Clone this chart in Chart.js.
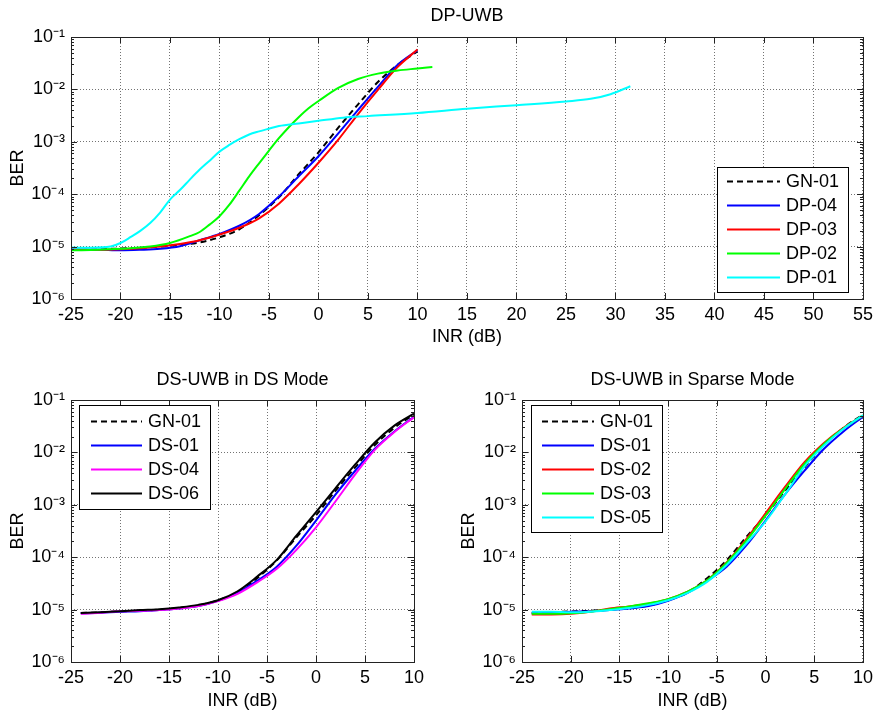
<!DOCTYPE html>
<html>
<head>
<meta charset="utf-8">
<script src="https://cdn.jsdelivr.net/npm/chart.js@4/dist/chart.umd.min.js"></script>
<style>
body { margin: 0; background: #fff; }
#wrap { position: relative; width: 878px; height: 714px; }
canvas { position: absolute; }
</style>
</head>
<body>
<div id="wrap">
  <canvas id="dp" width="878" height="355" style="left:0;top:0"></canvas>
  <canvas id="dsm" width="439" height="359" style="left:0;top:355px"></canvas>
  <canvas id="sp" width="439" height="359" style="left:439px;top:355px"></canvas>
</div>
<script>
// INR (dB) sample points
const dpX   = [-25,-22,-20,-18,-16,-14,-12,-10,-8,-6,-4,-2,0,2,4,6,8,10];
const dsX   = [-24,-22,-20,-18,-16,-14,-12,-10,-8,-6,-4,-2,0,2,4,6,8,10];
const dp02X = [-25,-23,-21,-19,-17,-15,-13,-12,-11,-10,-9,-8,-7,-6,-5,-4,-3,-2,-1,0,2,4,6,8,10,11.5];
const dp01X = [-25,-23,-21,-20,-19,-18,-17,-16,-15,-14,-13,-12,-11,-10,-9,-8,-7,-6,-5,-4,-2,0,2.5,5,10,15,20,25,27.5,29.5,31.5];

// BER values
const gn01 = [8.6e-6,8.9e-6,9.2e-6,9.5e-6,1.0e-5,1.07e-5,1.2e-5,1.51e-5,2.14e-5,3.98e-5,8.7e-5,2.4e-4,6.3e-4,1.86e-3,5.2e-3,1.38e-2,2.95e-2,5.3e-2];
const dp04 = [8.9e-6,8.7e-6,8.5e-6,8.7e-6,9.1e-6,1.02e-5,1.32e-5,1.74e-5,2.5e-5,4.2e-5,9.0e-5,2.2e-4,5.3e-4,1.45e-3,4.07e-3,1.12e-2,2.95e-2,5.6e-2];
const dp03 = [8.7e-6,8.7e-6,8.9e-6,9.3e-6,1.0e-5,1.12e-5,1.32e-5,1.7e-5,2.29e-5,3.47e-5,6.6e-5,1.55e-4,3.98e-4,1.1e-3,3.39e-3,9.8e-3,2.69e-2,5.75e-2];
const dp02 = [8.5e-6,8.6e-6,8.9e-6,9.3e-6,1.0e-5,1.17e-5,1.58e-5,1.9e-5,2.63e-5,3.8e-5,6.3e-5,1.17e-4,2.19e-4,3.89e-4,6.8e-4,1.17e-3,1.9e-3,2.95e-3,4.37e-3,6.0e-3,1.07e-2,1.58e-2,2.0e-2,2.29e-2,2.51e-2,2.69e-2];
const dp01 = [9.6e-6,9.5e-6,1.0e-5,1.17e-5,1.51e-5,2.0e-5,2.82e-5,4.47e-5,7.9e-5,1.2e-4,1.9e-4,2.95e-4,4.37e-4,6.5e-4,8.7e-4,1.12e-3,1.38e-3,1.58e-3,1.78e-3,2.0e-3,2.24e-3,2.51e-3,2.88e-3,3.09e-3,3.55e-3,4.27e-3,5.0e-3,5.9e-3,6.6e-3,8.1e-3,1.15e-2];
const ds01 = [8.5e-6,8.7e-6,9.1e-6,9.3e-6,9.8e-6,1.05e-5,1.17e-5,1.48e-5,2.09e-5,3.55e-5,6.6e-5,1.66e-4,5.0e-4,1.58e-3,4.47e-3,1.17e-2,2.51e-2,4.8e-2];
const ds04 = [8.3e-6,8.7e-6,9.3e-6,9.5e-6,9.8e-6,1.05e-5,1.17e-5,1.45e-5,2.0e-5,3.31e-5,6.0e-5,1.38e-4,3.72e-4,1.17e-3,3.8e-3,1.12e-2,2.45e-2,4.7e-2];
const ds06 = [8.6e-6,8.9e-6,9.3e-6,9.8e-6,1.02e-5,1.1e-5,1.23e-5,1.51e-5,2.24e-5,4.27e-5,8.9e-5,2.57e-4,7.24e-4,2.09e-3,5.89e-3,1.55e-2,3.24e-2,5.5e-2];
const ds02 = [8.1e-6,8.1e-6,8.3e-6,9.1e-6,1.05e-5,1.15e-5,1.29e-5,1.58e-5,2.19e-5,3.63e-5,7.9e-5,2.19e-4,6.9e-4,2.19e-3,6.5e-3,1.51e-2,2.95e-2,5.0e-2];
const ds03 = [8.3e-6,8.3e-6,8.5e-6,9.1e-6,1.02e-5,1.15e-5,1.32e-5,1.58e-5,2.19e-5,3.63e-5,7.8e-5,2.04e-4,6.2e-4,2.0e-3,6.0e-3,1.45e-2,2.88e-2,5.1e-2];
const ds05 = [9.1e-6,9.1e-6,8.9e-6,9.1e-6,9.8e-6,1.07e-5,1.23e-5,1.51e-5,2.09e-5,3.39e-5,7.1e-5,1.82e-4,4.8e-4,1.58e-3,5.4e-3,1.35e-2,2.82e-2,5.1e-2];

// y axis ticks
const berTicks = [1e-6,1e-5,1e-4,1e-3,1e-2,1e-1];

Chart.defaults.font.family = '"Liberation Sans", Arial, sans-serif';
Chart.defaults.font.size = 18;
Chart.defaults.color = '#000';

const sup = {'-':'\u207B','0':'\u2070','1':'\u00B9','2':'\u00B2','3':'\u00B3','4':'\u2074','5':'\u2075','6':'\u2076'};
function powLabel(v) {
  const e = String(Math.round(Math.log10(v)));
  return '10' + e.split('').map(c => sup[c]).join('');
}

function line(label, xs, ys, color, i, dash) {
  return {
    label: label,
    data: xs.map((x, k) => ({x: x, y: ys[k]})),
    borderColor: color,
    backgroundColor: color,
    borderWidth: 2,
    borderDash: dash || [],
    pointRadius: 0,
    cubicInterpolationMode: 'monotone',
    fill: false,
    order: -i
  };
}

// box round the plot with inward ticks
const frame = {
  id: 'frame',
  afterDatasetsDraw(chart) {
    const {ctx, chartArea: a, scales: {x, y}} = chart;
    ctx.save();
    ctx.strokeStyle = '#222';
    ctx.lineWidth = 1;
    ctx.beginPath();
    x.ticks.forEach(t => {
      const px = Math.round(x.getPixelForValue(t.value)) + 0.5;
      ctx.moveTo(px, a.bottom); ctx.lineTo(px, a.bottom - 6);
      ctx.moveTo(px, a.top); ctx.lineTo(px, a.top + 6);
    });
    y.ticks.forEach(t => {
      const py = Math.round(y.getPixelForValue(t.value)) + 0.5;
      ctx.moveTo(a.left, py); ctx.lineTo(a.left + 6, py);
      ctx.moveTo(a.right, py); ctx.lineTo(a.right - 6, py);
      for (let k = 2; k <= 9; k++) {
        const v = t.value * k;
        if (v >= y.max) break;
        const pm = Math.round(y.getPixelForValue(v)) + 0.5;
        ctx.moveTo(a.left, pm); ctx.lineTo(a.left + 3, pm);
        ctx.moveTo(a.right, pm); ctx.lineTo(a.right - 3, pm);
      }
    });
    ctx.stroke();
    ctx.strokeRect(Math.round(a.left) + 0.5, Math.round(a.top) + 0.5, Math.round(a.width), Math.round(a.height));
    ctx.restore();
  }
};

// legend box inside the plot
const boxLegend = {
  id: 'boxLegend',
  afterDraw(chart, args, o) {
    const ctx = chart.ctx;
    ctx.save();
    ctx.fillStyle = '#fff';
    ctx.fillRect(o.x, o.y, o.w, o.h);
    ctx.strokeStyle = '#000';
    ctx.lineWidth = 1;
    ctx.strokeRect(o.x + 0.5, o.y + 0.5, o.w, o.h);
    ctx.font = '18px "Liberation Sans", Arial, sans-serif';
    ctx.textBaseline = 'middle';
    chart.data.datasets.forEach((d, i) => {
      const cy = o.y + o.first + 24 * i + 0.5;
      ctx.strokeStyle = d.borderColor;
      ctx.lineWidth = 2;
      ctx.setLineDash(d.borderDash);
      ctx.beginPath();
      ctx.moveTo(o.x + o.l0, cy);
      ctx.lineTo(o.x + 63, cy);
      ctx.stroke();
      ctx.setLineDash([]);
      ctx.fillStyle = '#000';
      ctx.fillText(d.label, o.x + 69, cy + 1);
    });
    ctx.restore();
  }
};

function makeScales(xMax, xH, xTitlePad, yTitlePad) {
  const grid = {color: 'rgba(0,0,0,0.55)', drawTicks: false, lineWidth: 1};
  const border = {display: false, dash: [1, 2]};
  return {
    x: {
      type: 'linear', min: -25, max: xMax,
      ticks: {stepSize: 5, padding: 5, maxRotation: 0, autoSkip: false},
      grid: grid, border: border,
      title: {display: true, text: 'INR (dB)', padding: {top: 0, bottom: xTitlePad}},
      afterFit: s => { s.height = xH; }
    },
    y: {
      type: 'logarithmic', min: 1e-6, max: 1e-1,
      afterBuildTicks: s => { s.ticks = berTicks.map(v => ({value: v})); },
      ticks: {padding: 6, callback: v => powLabel(v)},
      grid: grid, border: border,
      title: {display: true, text: 'BER', padding: {top: yTitlePad, bottom: 0}},
      afterFit: s => { s.width = 71; }
    }
  };
}

function makeChart(id, title, titlePad, datasets, xMax, xH, xTitlePad, pad, leg) {
  return new Chart(document.getElementById(id), {
    type: 'line',
    data: {datasets: datasets},
    options: {
      responsive: false,
      animation: false,
      layout: {padding: pad},
      scales: makeScales(xMax, xH, xTitlePad, 7),
      plugins: {
        legend: {display: false},
        tooltip: {enabled: false},
        title: {display: true, text: title, fullSize: false, font: {size: 18, weight: 'normal', lineHeight: '20px'}, padding: titlePad},
        boxLegend: leg
      }
    },
    plugins: [frame, boxLegend]
  });
}

makeChart('dp', 'DP-UWB', {top: 6, bottom: 11}, [
  line('GN-01', dsX, gn01, '#000000', 0, [6, 4]),
  line('DP-04', dpX, dp04, '#0000ff', 1),
  line('DP-03', dpX, dp03, '#ff0000', 2),
  line('DP-02', dp02X, dp02, '#00ff00', 3),
  line('DP-01', dp01X, dp01, '#00ffff', 4)
], 55, 56, 7, {left: 0, right: 13, top: 0, bottom: 0},
  {x: 717, y: 167, w: 131, h: 125, first: 14, l0: 10});

makeChart('dsm', 'DS-UWB in DS Mode', {top: 15, bottom: 10}, [
  line('GN-01', dsX, gn01, '#000000', 0, [6, 4]),
  line('DS-01', dsX, ds01, '#0000ff', 1),
  line('DS-04', dsX, ds04, '#ff00ff', 2),
  line('DS-06', dsX, ds06, '#000000', 3)
], 10, 52, 2.5, {left: 0, right: 25, top: 0, bottom: 0},
  {x: 79, y: 50, w: 131, h: 104, first: 16, l0: 12});

makeChart('sp', 'DS-UWB in Sparse Mode', {top: 15, bottom: 10}, [
  line('GN-01', dsX, gn01, '#000000', 0, [6, 4]),
  line('DS-01', dsX, ds01, '#0000ff', 1),
  line('DS-02', dsX, ds02, '#ff0000', 2),
  line('DS-03', dsX, ds03, '#00ff00', 3),
  line('DS-05', dsX, ds05, '#00ffff', 4)
], 10, 52, 2.5, {left: 12, right: 13, top: 0, bottom: 0},
  {x: 92, y: 50, w: 131, h: 127, first: 16, l0: 11});
</script>
</body>
</html>
